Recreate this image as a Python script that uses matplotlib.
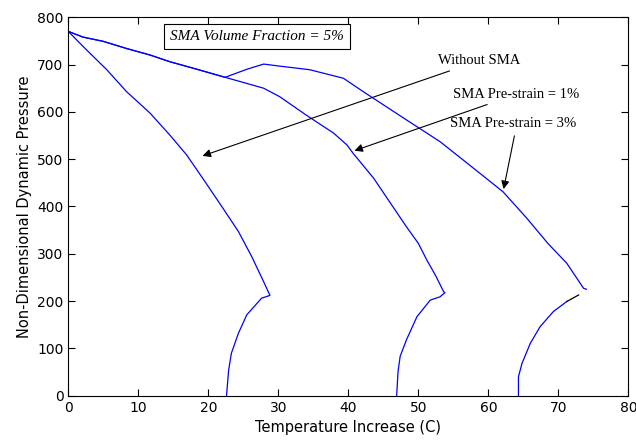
import matplotlib
matplotlib.use("Agg")
import matplotlib.pyplot as plt

# Without SMA
x0 = [0, 2.4, 5.5, 8.3, 11.7, 14.5, 16.9, 19.5, 22.1, 24.3, 26.2, 27.9, 28.8,
      27.6, 25.5, 24.3, 23.3, 22.9, 22.6]
y0 = [770, 734, 689, 643, 597, 551, 509, 453, 396, 347, 294, 241, 212,
      206, 171, 132, 90, 54, 0]

# SMA pre-strain = 1%
x1 = [0, 2.1, 5.0, 8.3, 11.7, 14.5, 17.9, 22.4, 27.9, 30.2, 34.0, 37.9, 39.8, 40.7,
      43.6, 45.7, 48.3, 50.0, 51.2, 52.5, 53.6, 53.8,
      53.1, 51.7, 49.8, 48.3, 47.4, 47.1, 46.9]
y1 = [770, 758, 749, 734, 720, 706, 692, 673, 650, 632, 593, 555, 530, 512,
      460, 414, 357, 322, 287, 253, 220, 218,
      209, 202, 167, 118, 83, 51, 0]

# SMA pre-strain = 3%
x3 = [0, 2.1, 5.0, 8.3, 11.7, 14.5, 17.9, 22.4, 25.5, 27.9, 30.0, 34.5, 39.3, 42.1,
      48.3, 53.1, 58.8, 62.1, 65.5, 68.5, 71.2, 73.6, 74.0]
y3 = [770, 758, 749, 734, 720, 706, 692, 673, 690, 701, 697, 689, 671, 643,
      583, 537, 470, 431, 375, 322, 280, 227, 225]
x3b = [71.2, 69.3, 67.4, 66.0, 64.8, 64.3, 64.3]
y3b = [199, 178, 146, 111, 68, 40, 0]
x3k = [72.9, 71.2]
y3k = [213, 199]

fig = plt.figure(figsize=(6.36, 4.42), dpi=100)
ax = fig.add_axes([0.1074, 0.1048, 0.8806, 0.8562])

blue = "#0000ff"
ax.plot(x0, y0, color=blue, lw=0.9)
ax.plot(x1, y1, color=blue, lw=0.9)
ax.plot(x3, y3, color=blue, lw=0.9)
ax.plot(x3b, y3b, color=blue, lw=0.9)
ax.plot(x3k, y3k, color="black", lw=0.9)

ax.set_xlim(0, 80)
ax.set_ylim(0, 800)
ax.set_xticks(range(0, 81, 10))
ax.set_yticks(range(0, 801, 100))
ax.tick_params(direction="in", top=True, right=True, labelsize=10, length=5)
ax.set_xlabel("Temperature Increase (C)", fontsize=10.5)
ax.set_ylabel("Non-Dimensional Dynamic Pressure", fontsize=10.5)

# annotations
ap = dict(arrowstyle="-|>", color="black", lw=0.8, mutation_scale=12)
serif = "Liberation Serif"
ax.annotate("Without SMA", xy=(18.8, 505), xytext=(52.8, 708), family=serif,
            fontsize=10.5, va="center", ha="left", arrowprops=ap)
ax.annotate("SMA Pre-strain = 1%", xy=(40.5, 516), xytext=(55.0, 637), family=serif,
            fontsize=10.5, va="center", ha="left", arrowprops=ap)
ax.text(54.5, 576, "SMA Pre-strain = 3%", family=serif, fontsize=10.5,
        va="center", ha="left")
ax.annotate("", xy=(62.1, 431), xytext=(63.8, 555), arrowprops=ap)

ax.text(26.9, 760, "SMA Volume Fraction = 5%", family=serif, style="italic",
        fontsize=11, ha="center", va="center",
        bbox=dict(boxstyle="square,pad=0.4", fc="white", ec="black", lw=0.8))

fig.savefig("out.png", dpi=100)
